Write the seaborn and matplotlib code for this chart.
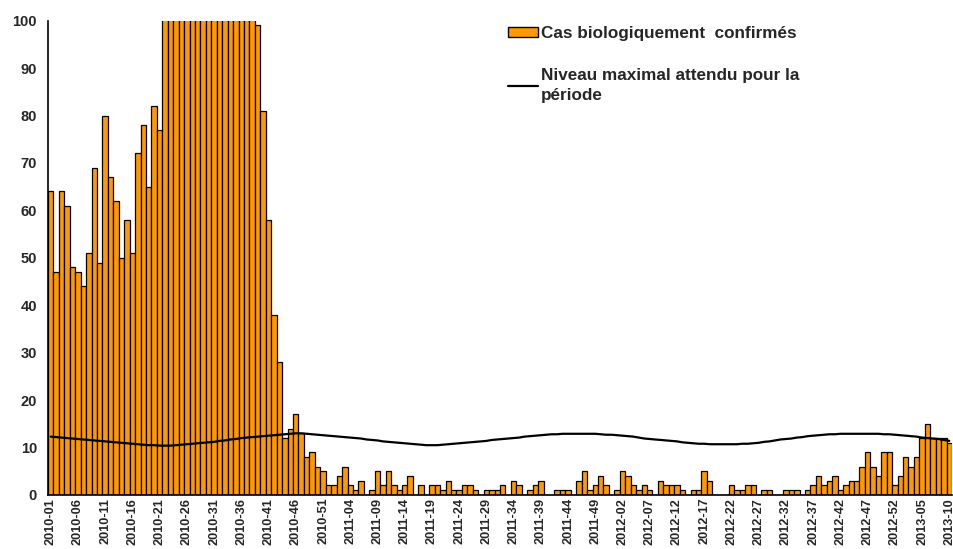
import numpy as np
import pandas as pd
import matplotlib
matplotlib.use("Agg")
import matplotlib.pyplot as plt
import seaborn as sns
from matplotlib.patches import Patch
from matplotlib.lines import Line2D

# weekly confirmed cases (weeks 22-38 of 2010 go above the axis)
cas_2010 = [64, 47, 64, 61, 48, 47, 44, 51, 69, 49,
            80, 67, 62, 50, 58, 51, 72, 78, 65, 82,
            77, 112, 135, 160, 198, 240, 265, 290, 310, 285,
            250, 230, 205, 180, 160, 140, 125, 108, 99, 81,
            58, 38, 28, 12, 14, 17, 13, 8, 9, 6,
            5, 2]
cas_2011 = [2, 4, 6, 2, 1, 3, 0, 1, 5, 2,
            5, 2, 1, 2, 4, 0, 2, 0, 2, 2,
            1, 3, 1, 1, 2, 2, 1, 0, 1, 1,
            1, 2, 0, 3, 2, 0, 1, 2, 3, 0,
            0, 1, 1, 1, 0, 3, 5, 1, 2, 4,
            2, 0]
cas_2012 = [1, 5, 4, 2, 1, 2, 1, 0, 3, 2,
            2, 2, 1, 0, 1, 1, 5, 3, 0, 0,
            0, 2, 1, 1, 2, 2, 0, 1, 1, 0,
            0, 1, 1, 1, 0, 1, 2, 4, 2, 3,
            4, 1, 2, 3, 3, 6, 9, 6, 4, 9,
            9, 2]
cas_2013 = [4, 8, 6, 8, 12, 15, 12, 12, 12, 11]

# expected maximum level for the period
seuil_2010 = [12.3, 12.2, 12.1, 12.0, 11.9, 11.8, 11.7, 11.6, 11.5, 11.4,
              11.3, 11.2, 11.1, 11.0, 10.9, 10.8, 10.7, 10.6, 10.5, 10.5,
              10.4, 10.4, 10.4, 10.5, 10.6, 10.7, 10.8, 10.9, 11.0, 11.1,
              11.2, 11.4, 11.5, 11.7, 11.8, 12.0, 12.1, 12.2, 12.3, 12.4,
              12.5, 12.6, 12.7, 12.8, 12.9, 13.0, 13.0, 12.9, 12.8, 12.7,
              12.6, 12.5]
seuil_2011 = [12.4, 12.3, 12.2, 12.1, 12.0, 11.9, 11.7, 11.6, 11.5, 11.3,
              11.2, 11.1, 11.0, 10.9, 10.8, 10.7, 10.6, 10.5, 10.5, 10.5,
              10.6, 10.7, 10.8, 10.9, 11.0, 11.1, 11.2, 11.3, 11.4, 11.6,
              11.7, 11.8, 11.9, 12.0, 12.1, 12.3, 12.4, 12.5, 12.6, 12.7,
              12.8, 12.8, 12.9, 12.9, 12.9, 12.9, 12.9, 12.9, 12.9, 12.8,
              12.7, 12.7]
seuil_2012 = [12.6, 12.5, 12.4, 12.3, 12.1, 11.9, 11.8, 11.7, 11.6, 11.5,
              11.4, 11.3, 11.1, 11.0, 10.9, 10.8, 10.8, 10.7, 10.7, 10.7,
              10.7, 10.7, 10.7, 10.8, 10.8, 10.9, 11.0, 11.2, 11.3, 11.5,
              11.7, 11.8, 11.9, 12.1, 12.2, 12.4, 12.5, 12.6, 12.7, 12.8,
              12.8, 12.9, 12.9, 12.9, 12.9, 12.9, 12.9, 12.9, 12.9, 12.8,
              12.8, 12.7]
seuil_2013 = [12.6, 12.5, 12.4, 12.3, 12.1, 12.0, 11.9, 11.8, 11.6, 11.4]

tick_labels = ["2010-01", "2010-06", "2010-11", "2010-16", "2010-21", "2010-26",
               "2010-31", "2010-36", "2010-41", "2010-46", "2010-51",
               "2011-04", "2011-09", "2011-14", "2011-19", "2011-24",
               "2011-29", "2011-34", "2011-39", "2011-44", "2011-49",
               "2012-02", "2012-07", "2012-12", "2012-17", "2012-22", "2012-27",
               "2012-32", "2012-37", "2012-42", "2012-47", "2012-52",
               "2013-05", "2013-10"]

cas = cas_2010 + cas_2011 + cas_2012 + cas_2013
seuil = seuil_2010 + seuil_2011 + seuil_2012 + seuil_2013
n = len(cas)
df = pd.DataFrame({"pos": np.arange(n), "cas": cas, "seuil": seuil})

sns.set_style("white")
plt.rcParams['font.family'] = ['Liberation Sans', 'DejaVu Sans']
plt.rcParams['font.weight'] = 'bold'

orange = "#FF9900"

fig = plt.figure(figsize=(9.54, 5.49), dpi=100)
ax = fig.add_axes([0.0503, 0.0984, 0.9476, 0.864])

sns.barplot(data=df, x="pos", y="cas", color=orange, saturation=1, width=1.0,
            edgecolor="black", linewidth=0.9, ax=ax)
sns.lineplot(data=df, x="pos", y="seuil", color="black", linewidth=1.6, ax=ax)

ax.set_xlim(-0.5, n - 0.5)
ax.set_ylim(0, 100)
ax.set_yticks(range(0, 101, 10))
ax.set_xticks(range(0, n, 5))
ax.set_xticklabels(tick_labels, rotation=90, fontsize=9.2, fontweight="bold")
ax.set_xticks(np.arange(-0.5, n, 1), minor=True)
ax.tick_params(axis="x", which="major", length=0, pad=2)
ax.tick_params(axis="x", which="minor", length=4, width=0.8, color="black", direction="out")
ax.tick_params(axis="y", length=4, width=1, color="black", direction="out", labelsize=10.5, pad=4)
for lbl in ax.get_yticklabels():
    lbl.set_fontweight("bold")
ax.set_xlabel("")
ax.set_ylabel("")
sns.despine(ax=ax)
ax.spines["left"].set_color("black")
ax.spines["bottom"].set_color("black")
ax.spines["left"].set_linewidth(1.2)
ax.spines["bottom"].set_linewidth(1.2)

handles = [Patch(facecolor=orange, edgecolor="black", linewidth=1),
           Line2D([0], [0], color="black", linewidth=1.6)]
labels = ["Cas biologiquement  confirmés", "Niveau maximal attendu pour la\npériode"]
leg = fig.legend(handles, labels, loc="upper left", bbox_to_anchor=(493 / 954, 1 - 11 / 549),
                 frameon=False, prop={"size": 12.3, "weight": "bold"},
                 handlelength=1.75, handleheight=0.55, handletextpad=0.15, labelspacing=1.55)
leg.get_texts()[1].set_linespacing(1.45)

fig.savefig("out.png", dpi=100)
